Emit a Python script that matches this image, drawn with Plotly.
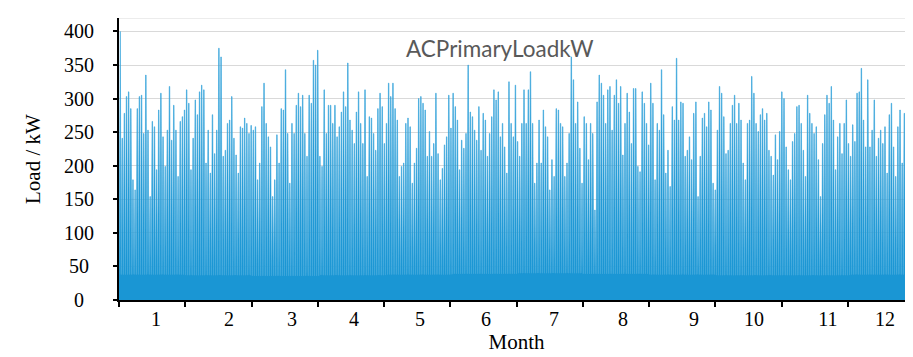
import plotly.graph_objects as go

# Daily peak load (kW), left to right
day_peak_kw = [
    400, 241, 278, 303, 310, 285, 179, 164, 285, 303, 305, 248, 335, 253, 154, 266, 258, 194, 283, 308,
    243, 199, 253, 318, 238, 290, 253, 184, 266, 273, 283, 313, 293, 194, 241, 298, 276, 310, 320, 313,
    204, 253, 189, 276, 218, 253, 375, 362, 214, 223, 263, 268, 303, 241, 216, 189, 258, 256, 271, 263,
    248, 260, 253,
    258, 179, 204, 288, 323, 263, 243, 228, 154, 179, 246, 204, 285, 283, 343, 248, 174, 263, 248, 290,
    308, 288, 305, 248, 214, 305, 293, 357, 350, 372, 214, 199, 313, 248, 290, 290, 263, 290, 243, 258,
    280, 310, 288, 353, 268, 253, 233, 280, 310, 263, 233, 313, 184, 273, 271, 248, 223, 285, 308, 288,
    233, 263, 323, 303,
    323, 285, 268, 184, 199, 204, 263, 271, 258, 174, 204, 226, 300, 303, 293, 283, 214, 251, 214, 233,
    308, 218, 179, 196, 231, 243, 305, 256, 308, 288, 268, 194, 238, 226, 248, 350, 280, 273, 253, 238,
    288, 223, 278, 268, 214, 248, 273, 313, 298, 310, 243, 263, 228, 189, 325, 263, 243, 320, 236, 214,
    263,
    313, 263, 313, 340, 263, 174, 204, 268, 204, 283, 258, 243, 164, 209, 184, 285, 283, 263, 258, 184,
    204, 248, 362, 328, 263, 295, 226, 174, 273, 263, 209, 263, 248, 134, 295, 335, 323, 305, 263, 313,
    318, 253, 305, 328, 293, 318, 216, 263, 308, 280, 233, 315, 315, 199, 191, 310, 293, 263, 231, 323,
    293,
    179, 263, 253, 343, 276, 189, 223, 169, 288, 268, 360, 268, 295, 293, 214, 223, 243, 209, 278, 295,
    154, 214, 271, 278, 258, 295, 283, 174, 164, 253, 318, 308, 273, 218, 223, 263, 290, 305, 263, 293,
    268, 204, 179, 263, 268, 333, 308, 263, 251, 276, 285, 268, 278, 223, 214, 186, 246, 209, 251, 310,
    300,
    228, 194, 179, 236, 248, 288, 290, 263, 223, 184, 305, 278, 263, 248, 258, 209, 154, 233, 276, 305,
    293, 318, 268, 194, 243, 263, 218, 263, 298, 233, 214, 261, 236, 308, 310, 345, 268, 228, 328, 228,
    253, 298, 214, 241, 253, 233, 258, 189, 276, 293, 228, 184, 258, 283, 204, 278, 288, 214, 243, 263,
]

# Night-time base load per month (kW)
month_base_kw = [38, 37, 36, 37, 38, 39, 40, 39, 38, 37, 37, 38]

month_labels = ["1", "2", "3", "4", "5", "6", "7", "8", "9", "10", "11", "12"]
y_ticks = [0, 50, 100, 150, 200, 250, 300, 350, 400]

N = len(day_peak_kw)

# build the day-by-day load profile (night base, daytime peak)
xs, ys = [], []
for i, p in enumerate(day_peak_kw):
    b = month_base_kw[min(11, i * 12 // N)]
    xs += [i, i + 0.04, i + 0.38, i + 0.62, i + 0.96]
    ys += [b, b, p, p, b]
xs.append(N)
ys.append(month_base_kw[-1])

# label placement (fraction of axis length) as in the original figure
label_frac = [0.0465, 0.1384, 0.2176, 0.2956, 0.3786, 0.4616, 0.5472, 0.634, 0.7233, 0.7987, 0.8918, 0.9635]
label_pos = [f * N for f in label_frac]
month_edges = [N * k / 12 for k in range(13)]

L, R, T, B = 111, 7, 10, 65
PW = 913 - L - R
PH = 357 - T - B

fig = go.Figure()
fig.add_trace(go.Scatter(
    x=xs, y=ys, mode="lines",
    line=dict(width=0.6, color="#3aa6dc"),
    fill="tozeroy", fillcolor="#1a96d4",
    hoverinfo="skip", showlegend=False,
))

serif = "Liberation Serif"

# centred y tick labels (as in the original)
annotations = [dict(text=str(v), xref="paper", yref="y", x=(71 - L) / PW, y=v,
                    xanchor="center", yanchor="middle", showarrow=False,
                    font=dict(family=serif, size=20, color="black")) for v in y_ticks]
annotations.append(dict(text="Load / kW", xref="paper", yref="paper", x=(25 - L) / PW, y=0.5,
                        textangle=-90, xanchor="center", yanchor="middle", showarrow=False,
                        font=dict(family=serif, size=21, color="black")))
annotations.append(dict(text="ACPrimaryLoadkW", xref="paper", yref="paper",
                        x=(492 - L) / PW, y=(357 - B - 40) / PH,
                        xanchor="center", yanchor="middle", showarrow=False,
                        font=dict(family="Lato", size=22.5, color="#595959")))

fig.update_layout(
    width=913, height=357,
    margin=dict(l=L, r=R, t=T, b=B),
    paper_bgcolor="white", plot_bgcolor="white",
    showlegend=False,
    xaxis=dict(
        range=[0, N], automargin=False,
        showgrid=False, zeroline=False,
        showline=True, linecolor="black", linewidth=2,
        tickmode="array", tickvals=label_pos, ticktext=month_labels,
        ticks="", ticklabelstandoff=0,
        tickfont=dict(family=serif, size=20, color="black"),
        minor=dict(tickmode="array", tickvals=month_edges, ticks="outside",
                   ticklen=5, tickwidth=1.5, tickcolor="black", showgrid=False),
        title=dict(text="Month", font=dict(family=serif, size=21, color="black"), standoff=3),
    ),
    yaxis=dict(
        range=[0, 420], automargin=False,
        tickmode="array", tickvals=y_ticks, showticklabels=False,
        showgrid=True, gridcolor="#d9d9d9", gridwidth=1,
        zeroline=False,
        showline=True, linecolor="black", linewidth=2,
        ticks="outside", ticklen=4, tickcolor="black", tickwidth=1.5,
    ),
    shapes=[dict(type="line", xref="paper", yref="y", x0=0, x1=1, y0=420, y1=420,
                 line=dict(color="#d9d9d9", width=1), layer="below")],
    annotations=annotations,
)

fig.write_html("out.html")
